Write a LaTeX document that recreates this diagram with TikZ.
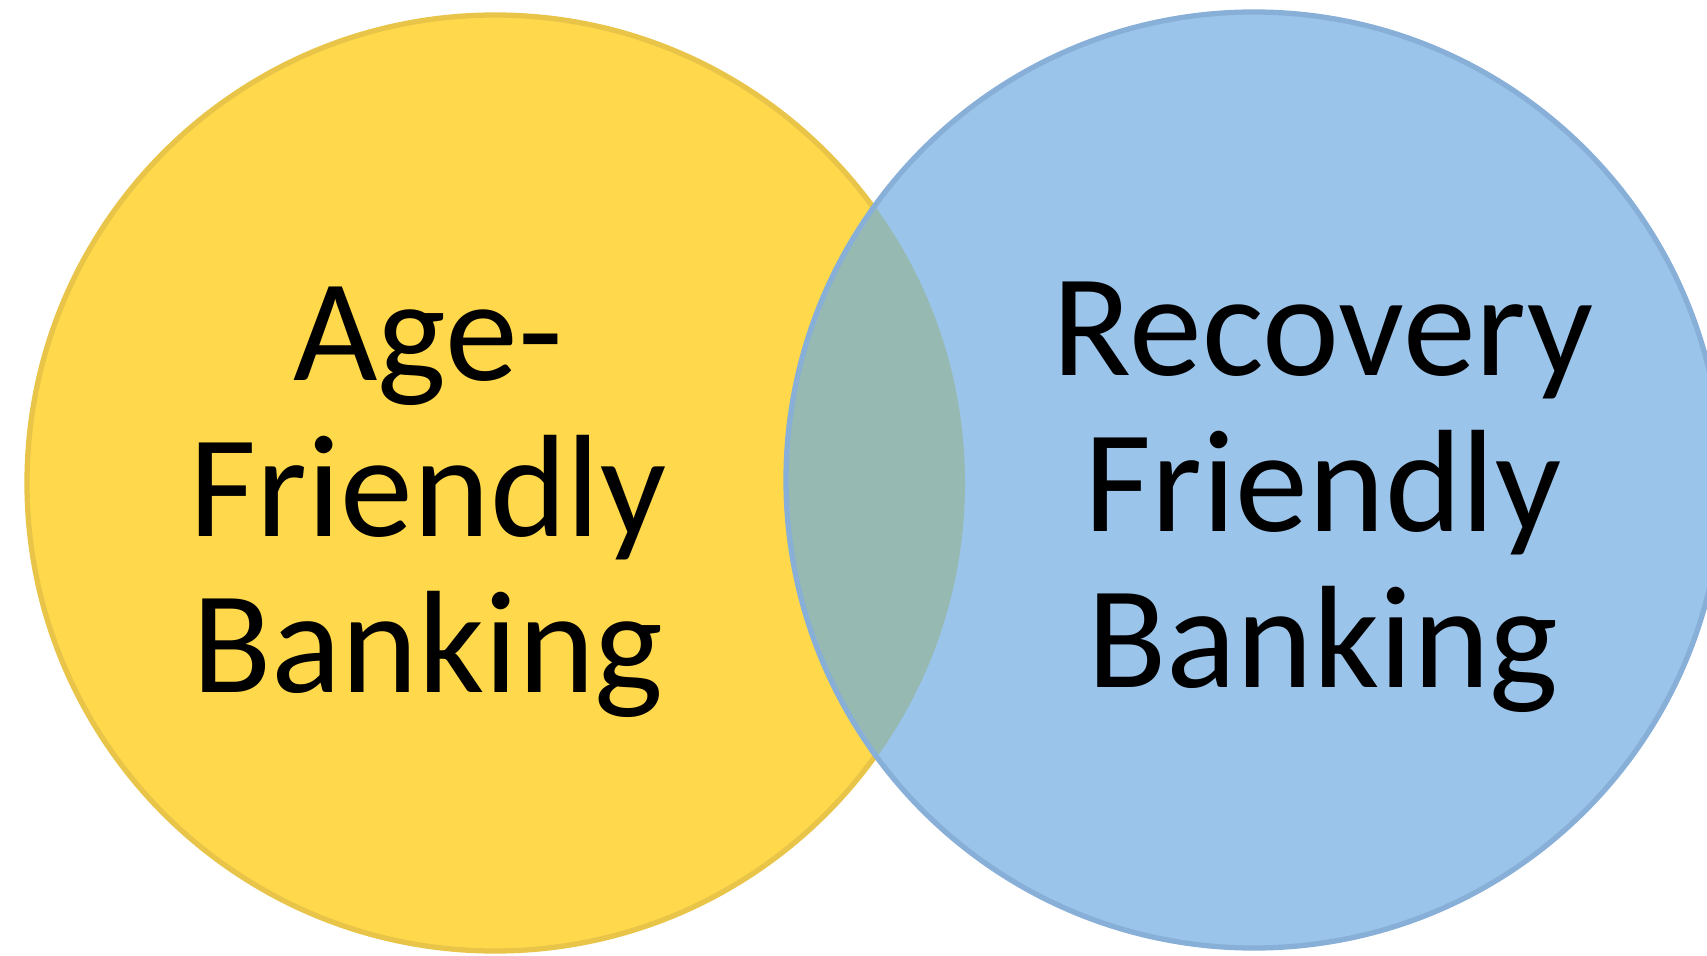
\documentclass[tikz,border=0pt]{standalone}
\usepackage{fontspec}
\setmainfont{Carlito}
\definecolor{ageyellow}{RGB}{255,217,75}
\definecolor{ageedge}{RGB}{232,196,72}
\definecolor{recblue}{RGB}{155,196,234}
\definecolor{recedge}{RGB}{136,175,216}
\definecolor{overlap}{RGB}{150,186,178}
\begin{document}
\begin{tikzpicture}[x=0.02cm, y=-0.02cm, line cap=round, line join=round]
			\tikzset{label style/.style={font=\fontsize{83}{88.8}\selectfont, align=center, text=black, inner sep=0pt}}
			\useasboundingbox (0,0) rectangle (1707,956);
			\coordinate (age) at (495,483);
			\coordinate (rec) at (1254,480);
			\fill[ageyellow] (age) circle[radius=470];
			\draw[ageedge, line width=3] (age) circle[radius=468];
			\fill[recblue] (rec) circle[radius=470];
			\begin{scope}
				\clip (age) circle[radius=470];
				\fill[overlap] (rec) circle[radius=470];
			\end{scope}
			\draw[recedge, line width=3] (rec) circle[radius=468];
			\node[label style] (agelabel) at (428,502) {Age-\\Friendly\\Banking};
			\node[label style] (reclabel) at (1323,497) {Recovery\\Friendly\\Banking};
		\end{tikzpicture}
\end{document}
